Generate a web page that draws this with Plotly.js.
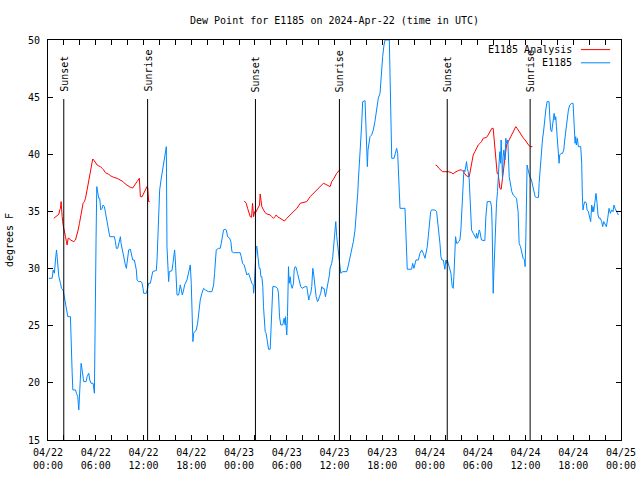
<!DOCTYPE html>
<html>
<head>
<meta charset="utf-8">
<script src="https://cdn.plot.ly/plotly-3.0.1.min.js"></script>
<style>html,body{margin:0;padding:0;background:#fff;}#chart{width:640px;height:480px;}</style>
</head>
<body>
<div id="chart"></div>
<script>
// ---- data (hours since 2024-04-22 00:00 UTC, degrees F) ----
const startDate = '2024-04-22T00:00:00Z';

const obsHours = [0.10,0.52,0.65,0.80,0.94,1.07,1.15,1.23,1.36,1.57,1.69,1.90,2.07,2.20,2.32,2.49,2.82,2.91,3.03,3.12,3.45,3.58,3.74,3.87,3.95,3.99,4.08,4.16,4.29,4.41,4.49,4.79,4.91,5.12,5.25,5.42,5.67,5.83,5.87,5.96,6.04,6.13,6.25,6.38,6.50,6.63,6.80,6.92,7.09,7.21,7.34,7.42,7.55,7.67,7.76,8.05,8.34,8.47,8.59,8.76,8.89,9.01,9.10,9.18,9.31,9.43,9.60,9.72,9.85,9.93,10.06,10.14,10.35,10.48,10.65,10.85,10.98,11.10,11.19,11.40,11.69,11.82,11.94,12.02,12.36,12.53,12.65,12.86,12.99,13.16,13.49,13.61,13.70,13.78,13.91,14.03,14.20,14.33,14.45,14.62,14.79,14.87,14.95,15.08,15.16,15.24,15.58,15.70,15.79,15.91,16.00,16.12,16.21,16.42,16.54,16.62,16.75,16.88,17.04,17.17,17.46,17.67,17.88,18.00,18.09,18.21,
18.30,18.46,18.63,18.80,18.92,19.13,19.34,19.55,19.76,20.18,20.60,20.81,20.93,21.14,21.43,21.64,21.77,21.94,22.06,22.27,22.40,22.57,22.82,22.98,23.11,23.32,23.74,24.15,24.28,24.45,24.65,24.78,24.99,25.20,25.33,25.50,25.62,25.79,25.83,25.91,26.00,26.16,26.24,26.33,26.45,26.54,26.66,26.75,26.87,26.99,27.08,27.16,27.29,27.41,27.58,27.71,27.92,28.00,28.13,28.25,28.54,28.84,28.96,29.09,29.25,29.50,29.67,29.80,29.84,29.92,30.00,30.09,30.22,30.30,30.43,30.55,30.68,30.85,30.93,31.05,31.18,31.35,31.47,31.60,31.76,31.93,32.31,32.52,32.64,32.77,32.85,33.02,33.14,33.27,33.35,33.44,33.56,33.69,33.86,33.98,34.11,34.27,34.40,34.52,34.69,34.86,34.98,35.11,35.24,35.36,35.44,35.65,35.78,35.95,36.07,36.16,36.28,36.49,36.66,36.79,
37.04,37.54,37.75,37.95,38.16,38.37,38.58,38.79,38.92,39.00,39.13,39.30,39.42,39.54,39.84,39.96,40.05,40.13,40.21,40.34,40.46,40.67,40.88,41.08,41.29,41.50,41.72,41.80,41.92,42.05,42.22,42.35,42.89,42.98,43.10,43.19,43.48,43.60,43.73,43.81,43.94,44.10,44.23,44.86,44.94,45.06,45.14,45.69,45.82,45.98,46.11,46.24,46.53,46.74,46.95,47.16,47.37,47.49,47.66,47.78,47.91,48.08,48.20,48.62,48.83,48.96,49.12,49.25,49.37,49.50,49.67,49.75,49.87,50.00,50.08,50.17,50.29,50.42,50.50,50.63,50.79,50.92,51.00,51.13,51.21,51.34,51.46,51.59,51.76,51.88,52.01,52.14,52.26,52.39,52.51,52.59,52.68,52.80,52.93,53.09,53.22,53.43,53.64,53.77,53.85,53.98,54.19,
54.27,54.47,54.89,55.02,55.19,55.60,55.73,55.81,55.86,55.94,56.02,56.15,56.36,56.48,56.57,56.69,56.78,56.86,56.94,57.03,57.11,57.19,57.28,57.41,57.53,57.62,57.78,57.95,58.12,58.28,58.45,58.66,58.87,59.07,59.20,59.37,59.49,59.70,59.87,59.95,60.04,60.12,60.20,60.33,60.45,60.54,60.75,60.87,61.04,61.21,61.37,61.63,61.71,61.88,62.00,62.13,62.29,62.42,62.55,62.71,62.96,63.05,63.17,63.30,63.47,63.59,63.72,63.80,63.89,64.01,64.14,64.22,64.30,64.47,64.64,64.81,64.93,65.06,65.22,65.39,65.56,65.81,65.98,66.10,66.23,66.31,66.39,66.52,66.64,66.94,67.06,67.15,67.23,67.32,67.48,67.65,67.73,67.90,68.07,68.19,68.32,68.40,68.49,68.57,68.70,68.86,68.99,69.11,69.24,69.41,69.57,69.70,69.83,69.99,70.16,70.33,70.50,70.66,70.83,71.00,71.12,71.25,71.42,71.59,71.67];

const obsDew = [29.15,29.15,29.88,29.59,30.75,31.63,31.04,30.46,29.30,28.71,28.27,28.13,27.54,27.10,26.67,25.79,25.79,24.34,20.98,19.38,19.38,19.09,18.80,17.63,18.80,19.96,20.84,21.71,21.13,20.54,20.11,20.11,20.54,20.84,20.25,19.96,19.96,19.09,23.61,28.13,32.65,37.17,36.58,36.15,36.15,35.13,35.27,35.56,35.42,34.98,34.25,33.96,33.52,33.09,32.79,32.79,32.79,32.36,31.77,31.77,32.21,32.50,32.79,32.21,31.63,31.19,30.75,30.32,30.02,30.46,31.04,31.63,31.69,31.34,30.75,30.75,30.32,29.88,29.00,28.86,28.86,28.71,28.27,27.84,27.84,28.57,28.71,28.71,29.15,29.73,29.82,29.82,30.75,31.92,34.84,36.88,37.75,38.33,39.21,39.79,40.52,40.67,31.92,29.73,28.86,29.73,29.82,30.46,31.04,31.63,30.75,28.71,27.69,27.69,28.42,28.57,28.13,27.69,28.13,28.57,29.00,29.59,30.32,28.71,25.21,23.61,
24.34,24.48,24.63,25.21,26.09,27.25,27.84,28.27,28.13,27.98,27.98,28.57,29.59,31.63,31.77,31.77,32.21,32.79,33.38,33.44,33.38,32.79,32.65,32.36,31.48,31.39,31.39,31.39,31.04,30.46,30.32,29.88,29.44,29.59,29.29,28.86,28.71,28.57,27.84,28.42,29.88,31.92,31.98,31.48,30.75,30.02,30.02,29.29,29.29,28.42,26.67,25.94,24.48,24.34,23.46,22.94,22.94,24.63,26.96,28.42,28.42,28.27,27.84,25.79,25.07,25.07,25.65,25.07,25.79,24.77,24.19,25.79,30.17,28.71,29.29,28.57,28.27,28.71,29.88,30.17,30.11,29.59,29.15,28.86,28.42,28.27,28.42,28.42,27.69,27.25,27.54,27.84,28.42,30.02,29.73,29.15,27.84,27.54,27.11,27.25,27.54,27.84,28.42,28.27,28.27,27.54,27.98,28.42,28.86,29.44,30.02,30.46,31.04,32.79,33.96,34.11,32.79,31.63,30.17,29.59,
29.73,29.73,30.32,30.90,31.48,32.36,33.38,35.13,36.58,37.75,38.92,41.25,42.71,44.60,44.69,42.13,40.52,38.92,40.38,40.96,41.54,41.69,42.13,42.86,43.88,44.90,45.33,46.21,47.38,48.54,49.56,50.00,50.00,47.38,42.27,39.65,39.65,40.03,40.38,40.52,40.08,38.04,35.27,35.27,33.96,31.34,29.94,29.94,30.46,30.02,30.46,30.75,30.75,31.34,31.63,31.34,30.90,31.34,31.92,32.79,33.96,34.98,35.13,35.13,34.98,34.25,33.09,32.21,31.04,30.75,30.75,30.46,29.94,30.75,30.46,30.75,30.46,30.02,29.88,29.59,28.42,28.27,29.29,31.34,32.79,32.21,32.21,32.36,32.50,33.38,35.42,37.46,38.63,38.48,38.92,39.36,38.77,38.48,37.75,34.84,33.38,33.09,32.79,32.65,33.09,32.65,33.38,
33.23,32.50,32.44,34.54,35.86,35.86,35.42,33.67,30.75,27.84,29.59,32.21,35.71,36.73,38.63,39.36,40.23,39.21,41.25,38.63,37.90,39.79,40.38,39.50,41.40,40.96,41.25,38.04,37.17,36.73,36.44,36.29,36.15,34.98,32.21,31.92,31.48,30.90,30.75,30.17,32.50,35.71,39.06,38.63,38.19,38.04,37.75,37.31,36.93,36.29,36.23,36.23,37.46,39.21,40.38,41.25,42.13,43.15,43.88,44.60,44.60,43.29,42.13,41.98,42.71,43.58,43.00,43.29,42.42,41.25,39.79,39.21,39.94,40.08,40.08,40.38,41.25,42.13,43.00,43.88,44.31,44.46,44.46,42.71,40.96,41.54,40.81,41.40,40.67,40.67,39.21,36.29,35.13,35.56,35.86,35.71,35.13,34.98,34.25,34.11,35.56,34.98,35.42,34.98,35.71,36.58,35.71,34.69,34.40,34.40,34.11,33.67,34.11,33.81,33.67,34.40,35.27,34.84,35.13,34.98,35.56,35.27,34.98,34.84,34.69];

// Analysis series: null separates the three analysis periods
const anaHours = [0.73,0.94,1.15,1.36,1.48,1.57,1.65,1.69,1.78,1.90,1.99,2.11,2.20,2.32,2.40,2.53,2.66,2.82,3.03,3.24,3.45,3.66,3.79,3.95,4.08,4.29,4.41,4.58,4.71,4.91,5.12,5.33,5.46,5.62,5.75,5.96,6.17,6.38,6.59,6.80,7.00,7.21,7.42,7.63,7.84,8.05,8.26,8.68,9.10,9.43,9.72,10.02,10.35,10.64,10.77,10.98,11.19,11.48,11.61,11.82,12.02,12.23,12.44,12.53,12.57,12.65,12.78,
18.0,
24.66,24.91,25.08,25.24,25.41,25.58,25.70,25.83,25.95,26.04,26.24,26.45,26.58,26.66,26.75,26.87,27.08,27.29,27.50,27.92,28.13,28.33,28.54,28.67,28.84,29.17,29.50,29.72,30.00,30.43,30.85,31.27,31.69,32.11,32.52,32.94,33.36,33.78,34.20,34.60,34.82,35.03,35.45,35.65,35.86,36.28,36.61,36.70,
42.0,
48.70,48.91,49.12,49.33,49.58,49.87,50.29,50.71,50.92,51.05,51.25,51.55,51.76,51.97,52.18,52.39,52.59,52.93,53.09,53.26,53.43,53.64,53.85,54.06,54.27,54.47,54.68,55.10,55.31,55.52,55.77,55.94,56.02,56.15,56.27,56.36,56.44,56.57,56.69,56.78,56.94,57.03,57.11,57.28,57.45,57.62,57.83,58.03,58.24,58.45,58.66,58.78,58.95,59.20,59.45,59.70,59.95,60.20,60.45,60.62,60.87];

const anaDew = [34.40,34.54,34.69,34.75,35.13,35.27,35.86,34.98,34.54,33.81,33.38,33.09,32.79,32.36,32.06,32.65,32.65,32.50,32.44,32.36,32.50,32.94,33.38,33.96,34.54,35.27,35.71,35.86,36.15,36.88,37.61,38.33,38.92,39.59,39.50,39.21,39.06,38.98,38.92,38.77,38.63,38.39,38.33,38.25,38.13,38.04,37.98,37.90,37.75,37.61,37.40,37.23,37.11,37.05,37.17,37.31,37.61,37.90,36.29,36.29,36.58,36.88,37.17,37.02,36.29,35.86,35.86,
null,
35.91,35.71,35.27,34.84,34.54,34.49,35.71,34.54,34.98,34.84,35.13,35.42,35.56,36.53,35.71,35.42,35.13,34.89,34.78,34.69,34.54,34.40,34.54,34.69,34.54,34.40,34.25,34.16,34.40,34.69,34.98,35.27,35.71,35.80,35.86,36.29,36.58,36.88,37.17,37.46,37.40,37.31,37.17,37.61,37.81,38.33,38.68,38.68,
null,
39.06,38.98,38.77,38.63,38.48,38.48,38.48,38.39,38.27,38.39,38.48,38.57,38.63,38.63,38.48,38.27,38.10,38.04,38.63,39.36,39.94,40.23,40.52,40.81,40.95,41.10,41.40,41.48,41.69,41.98,42.27,42.27,41.54,40.81,40.08,39.21,38.33,38.33,37.46,37.02,36.93,37.46,38.04,39.21,40.08,40.81,41.10,41.40,41.69,41.98,42.27,42.42,42.27,41.98,41.69,41.45,41.25,40.96,40.75,40.67,40.67];

const sunsetTimes  = ['2024-04-22 01:59','2024-04-23 02:04','2024-04-24 02:10'];
const sunriseTimes = ['2024-04-22 12:31','2024-04-23 12:37','2024-04-24 12:35'];

const xTickLabels = ['04/22<br>00:00','04/22<br>06:00','04/22<br>12:00','04/22<br>18:00',
                     '04/23<br>00:00','04/23<br>06:00','04/23<br>12:00','04/23<br>18:00',
                     '04/24<br>00:00','04/24<br>06:00','04/24<br>12:00','04/24<br>18:00','04/25<br>00:00'];

const seriesNames = ['E1185 Analysis','E1185'];
const seriesColors = ['#ff0000','#0088ff'];

// ---- helpers ----
const t0 = Date.parse(startDate);
function hToDate(h){
  if (h === null) return null;
  const d = new Date(t0 + Math.round(h*3600)*1000);
  return d.toISOString().slice(0,19).replace('T',' ');
}
const FONT = 'DejaVu Sans Mono, Liberation Mono, monospace';

const tickVals = [], tickText = [];
for (let i = 0; i <= 36; i++) {
  tickVals.push(hToDate(i*2));
  tickText.push(i % 3 === 0 ? xTickLabels[i/3] : '');
}

const traces = [
  {x: anaHours.map(hToDate), y: anaDew, type:'scatter', mode:'lines', name: seriesNames[0],
   line:{color: seriesColors[0], width:1}, connectgaps:false, showlegend:false},
  {x: obsHours.map(hToDate), y: obsDew, type:'scatter', mode:'lines', name: seriesNames[1],
   line:{color: seriesColors[1], width:1}, showlegend:false}
];

const shapes = [], annotations = [];
sunsetTimes.forEach(t => {
  shapes.push({type:'line', xref:'x', yref:'paper', x0:t, x1:t, y0:0, y1:0.8525, line:{color:'#000', width:1}});
  annotations.push({x:t, xref:'x', y:0.865, yref:'paper', text:'Sunset', textangle:-90, showarrow:false,
    xanchor:'center', yanchor:'bottom', font:{family:FONT, size:10, color:'#000'}});
});
sunriseTimes.forEach(t => {
  shapes.push({type:'line', xref:'x', yref:'paper', x0:t, x1:t, y0:0, y1:0.8525, line:{color:'#000', width:1}});
  annotations.push({x:t, xref:'x', y:0.865, yref:'paper', text:'Sunrise', textangle:-90, showarrow:false,
    xanchor:'center', yanchor:'bottom', font:{family:FONT, size:10, color:'#000'}});
});
// legend in gnuplot style (text then line sample)
const legY = [0.976, 0.943];
seriesNames.forEach((n, i) => {
  annotations.push({x:0.918, xref:'paper', y:legY[i], yref:'paper', text:n, showarrow:false,
    xanchor:'right', yanchor:'middle', font:{family:FONT, size:10, color:'#000'}});
  shapes.push({type:'line', xref:'paper', yref:'paper', x0:0.930, x1:0.981, y0:legY[i], y1:legY[i],
    line:{color:seriesColors[i], width:1}});
});

const layout = {
  width:640, height:480,
  margin:{l:48, r:19, t:40, b:40},
  paper_bgcolor:'#fff', plot_bgcolor:'#fff',
  font:{family:FONT, size:10, color:'#000'},
  title:{text:'Dew Point for E1185 on 2024-Apr-22 (time in UTC)', font:{family:FONT, size:10, color:'#000'},
         x:0.5, xref:'paper', y:1-20/480, yref:'container', yanchor:'middle'},
  xaxis:{type:'date', range:[hToDate(0), hToDate(72)], tickmode:'array', tickvals:tickVals, ticktext:tickText,
         ticks:'inside', ticklen:5, tickcolor:'#000', showline:true, linecolor:'#000', linewidth:1,
         mirror:'allticks', showgrid:false, zeroline:false, tickangle:0, ticklabelstandoff:3,
         tickfont:{family:FONT, size:10, color:'#000'}},
  yaxis:{range:[15,50], dtick:5, tick0:15, ticks:'inside', ticklen:5, tickcolor:'#000', showline:true,
         linecolor:'#000', linewidth:1, mirror:'allticks', showgrid:false, zeroline:false, ticklabelstandoff:5,
         tickfont:{family:FONT, size:10, color:'#000'},
         title:{text:'degrees F', standoff:12, font:{family:FONT, size:10, color:'#000'}}},
  shapes: shapes, annotations: annotations, showlegend:false
};

Plotly.newPlot('chart', traces, layout, {staticPlot:true, displayModeBar:false});
</script>
</body>
</html>
